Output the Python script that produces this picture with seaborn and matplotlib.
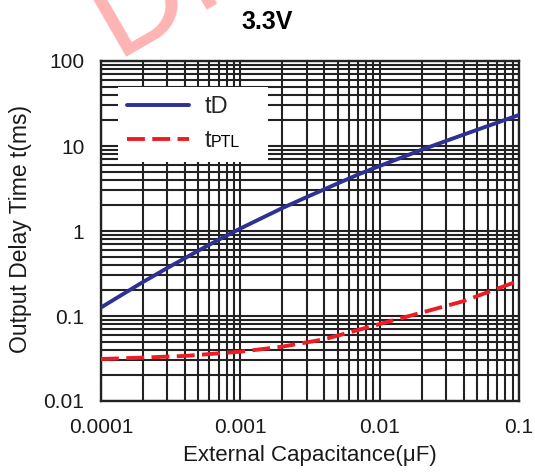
import numpy as np
import pandas as pd
import matplotlib
matplotlib.use("Agg")
import matplotlib.pyplot as plt
import seaborn as sns
from matplotlib.ticker import LogLocator, FixedLocator, NullFormatter

# ---- data ----
cap_td = [0.0001, 0.0002, 0.0003, 0.0005, 0.0007, 0.001, 0.002, 0.003, 0.005,
          0.007, 0.01, 0.02, 0.03, 0.05, 0.07, 0.1]
td_ms = [0.126, 0.251, 0.368, 0.587, 0.791, 1.07, 1.86, 2.51, 3.63,
         4.62, 5.82, 9.02, 11.48, 15.5, 18.84, 23.2]

cap_ptl = [0.0001, 0.0002, 0.0004, 0.001, 0.002, 0.004, 0.007, 0.01, 0.02, 0.04, 0.062, 0.1]
ptl_ms = [0.0312, 0.0324, 0.0339, 0.038, 0.0436, 0.0532, 0.0684, 0.0804, 0.1096, 0.1496, 0.195, 0.26]

series_names = ["tD", "tPTL"]
x_ticks = [0.0001, 0.001, 0.01, 0.1]
x_ticklabels = ["0.0001", "0.001", "0.01", "0.1"]
y_ticks = [0.01, 0.1, 1, 10, 100]
y_ticklabels = ["0.01", "0.1", "1", "10", "100"]

title = "3.3V"
xlabel = "External Capacitance(\u03bcF)"
ylabel = "Output Delay Time t(ms)"
watermark = "DRAFT"

df = pd.concat([
    pd.DataFrame({"C": cap_td, "t": td_ms, "series": series_names[0]}),
    pd.DataFrame({"C": cap_ptl, "t": ptl_ms, "series": series_names[1]}),
], ignore_index=True)

sns.set_style("white")
plt.rcParams["font.family"] = ["Liberation Sans", "DejaVu Sans"]

fig = plt.figure(figsize=(5.35, 4.75), dpi=100)
ax = fig.add_axes([101 / 535, 1 - 401 / 475, 418 / 535, 340 / 475])

# watermark
fig.text(115 / 535, 1 - 57 / 475, watermark, fontsize=94, color="#ffb4b4",
         rotation=30, rotation_mode="anchor", ha="left", va="baseline", zorder=0)

ax.set_xscale("log")
ax.set_yscale("log")
ax.set_xlim(0.0001, 0.1)
ax.set_ylim(0.01, 100)

sns.lineplot(data=df, x="C", y="t", hue="series", style="series",
             palette=["#2e3192", "#ed1c24"], dashes=["", (4.6, 1.9)],
             linewidth=2.8, ax=ax, zorder=5)

ax.xaxis.set_major_locator(FixedLocator(x_ticks))
ax.set_xticklabels(x_ticklabels)
ax.yaxis.set_major_locator(FixedLocator(y_ticks))
ax.set_yticklabels(y_ticklabels)
ax.xaxis.set_minor_locator(LogLocator(base=10, subs=np.arange(2, 10)))
ax.yaxis.set_minor_locator(LogLocator(base=10, subs=np.arange(2, 10)))
ax.xaxis.set_minor_formatter(NullFormatter())
ax.yaxis.set_minor_formatter(NullFormatter())

ax.grid(which="both", color="#222222", linewidth=1.5)
ax.set_axisbelow(True)
ax.tick_params(which="both", length=0, labelsize=15, pad=12, colors="#1a1a1a")
for s in ax.spines.values():
    s.set_visible(True)
    s.set_color("#222222")
    s.set_linewidth(1.7)

ax.set_xlabel(xlabel, fontsize=16, color="#1a1a1a")
ax.set_ylabel(ylabel, fontsize=16.5, color="#1a1a1a")
ax.xaxis.set_label_coords(0.5, (401 - 456) / 340)
ax.xaxis.label.set_va("center")
ax.yaxis.set_label_coords((21 - 101) / 418, (401 - 229) / 340)
ax.yaxis.label.set_va("center")

fig.text(0.5, 1 - 22 / 475, title, fontsize=18, fontweight="bold",
         ha="center", va="center", color="black")

x0 = (118 - 101) / 418
y0 = (401 - 160) / 340
leg = ax.legend(loc="upper left",
                bbox_to_anchor=(x0, y0, (268 - 118) / 418, (160 - 87) / 340),
                mode="expand", borderaxespad=0, fontsize=17, frameon=True,
                fancybox=False, framealpha=1, edgecolor="white",
                handlelength=2.6, handletextpad=0.65, borderpad=0.4,
                labelspacing=0.5, title=None)
leg.get_frame().set_linewidth(0)
leg.set_zorder(10)
texts = leg.get_texts()
texts[1].set_text("t")
sub = ax.annotate("PTL", xy=(1, 0), xycoords=texts[1], xytext=(0.3, 3.6),
                  textcoords="offset points", fontsize=11.5, ha="left",
                  va="baseline", color="black", zorder=11,
                  annotation_clip=False)

fig.canvas.draw()
fig.savefig("out.png", dpi=100)
